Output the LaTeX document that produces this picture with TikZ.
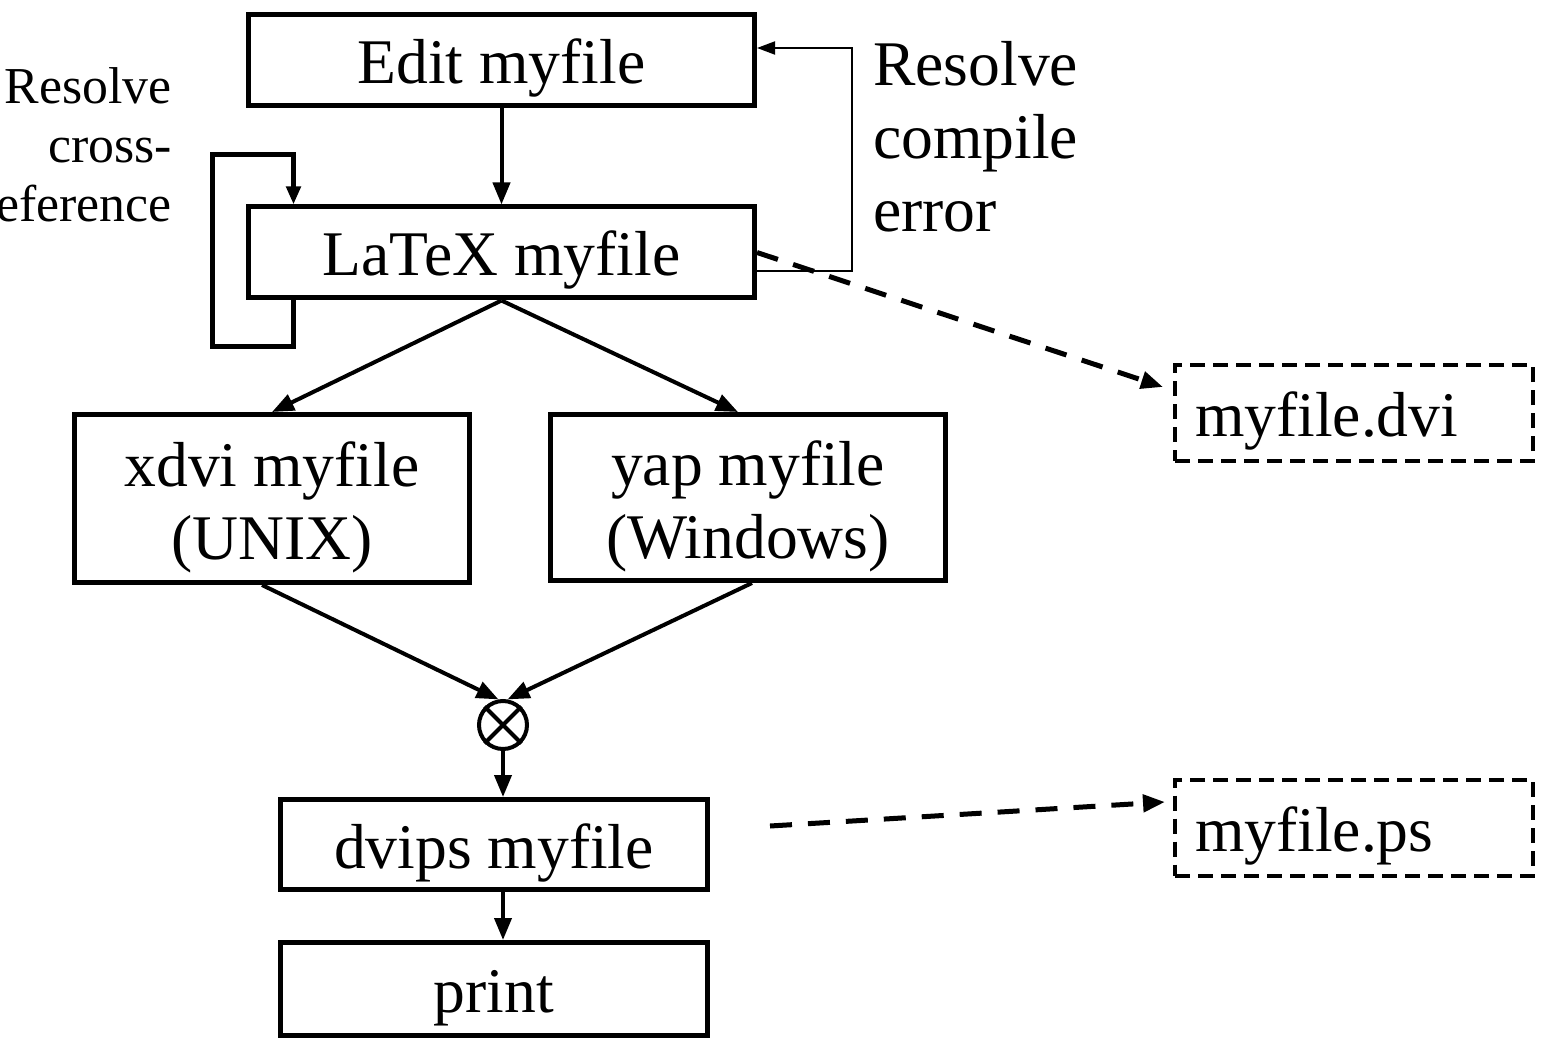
\documentclass[tikz,border=0pt]{standalone}
\usepackage{fontspec}
\setmainfont{Liberation Serif}
\usetikzlibrary{arrows.meta,calc}
\begin{document}
\begin{tikzpicture}[x=1pt,y=-1pt,
  bigfont/.style={font=\fontsize{63.6}{73}\selectfont},
  box/.style={draw, line width=5pt, inner sep=0pt, align=center, bigfont, text height=62pt, text depth=15pt},
  box2/.style={draw, line width=5pt, inner sep=0pt, bigfont, text height=127pt, text depth=6pt},
  dbox/.style={draw, line width=4pt, dash pattern=on 15pt off 8pt, inner sep=0pt, align=left, bigfont,
    minimum width=358pt, minimum height=96pt, text width=318pt, text height=62pt, text depth=15pt},
  arr/.style={line width=4pt, -{Triangle[length=22pt,width=17pt]}},
  darr/.style={line width=5pt, dash pattern=on 22pt off 16pt, -{Triangle[length=22pt,width=17pt]}},
  fb/.style={line width=2pt, -{Triangle[length=18pt,width=13pt]}},
  lp/.style={line width=5pt, -{Triangle[length=18pt,width=14pt]}}
]
\useasboundingbox (0,0) rectangle (1549,1040);

\node[box, minimum width=506pt, minimum height=91pt] (edit) at (501.5,60) {Edit myfile};
\node[box, minimum width=506pt, minimum height=91pt] (latex) at (501.5,252.5) {LaTeX myfile};
\node[box2, minimum width=395pt, minimum height=168pt] (xdvi) at (272,498.5)
  {\begin{tabular}[b]{@{}c@{}}xdvi myfile\\(UNIX)\end{tabular}};
\node[box2, minimum width=395pt, minimum height=166pt] (yap) at (748,497.5)
  {\begin{tabular}[b]{@{}c@{}}yap myfile\\(Windows)\end{tabular}};
\node[draw, circle, line width=4pt, minimum size=48pt, inner sep=0pt] (ox) at (503,725) {};
\draw[line width=4pt] (ox.north west) -- (ox.south east) (ox.north east) -- (ox.south west);
\node[box, minimum width=427pt, minimum height=90pt] (dvips) at (494,844.5) {dvips myfile};
\node[box, minimum width=427pt, minimum height=93pt] (print) at (494,989) {print};
\node[dbox] (dvi) at (1354,413) {myfile.dvi};
\node[dbox] (ps) at (1354,827.5) {myfile.ps};

\node[bigfont, anchor=north west, inner sep=0pt, align=left] (rlab) at (873,41) {Resolve\\compile\\error};
\node[font=\fontsize{51.8}{59}\selectfont, anchor=north east, inner sep=0pt, align=right] (llab) at (172,67) {Resolve\\cross-\\reference};

% connectors
\draw[arr] (edit.south) -- (latex.north);
\draw[arr] (latex.south) -- (xdvi.north);
\draw[arr] (latex.south) -- ($(yap.north)+(-10,0)$);
\draw[arr] ($(xdvi.south)+(-10,0)$) -- (ox.100);
\draw[arr] ($(yap.south)+(4,0)$) -- (ox.80);
\draw[arr] (ox.south) -- (dvips.north -| ox.south);
\draw[arr] (dvips.south -| ox.south) -- (print.north -| ox.south);

\draw[lp] ($(latex.south)+(-208,-2)$) -- ++(0,48) -- ++(-81,0) -- ++(0,-192) -- ++(81,0) -- ($(latex.north)+(-208,0)$);

\draw[fb] ($(latex.east)+(-2,19)$) -- ++(97,0) |- ($(edit.east)+(0,-12)$);

\coordinate (dvitip) at (1163,387);
\coordinate (psstart) at (770,826);
\coordinate (pstip) at (1165,802);
\draw[darr] (latex.east) -- (dvitip);
\draw[darr] (psstart) -- (pstip);
\end{tikzpicture}
\end{document}
